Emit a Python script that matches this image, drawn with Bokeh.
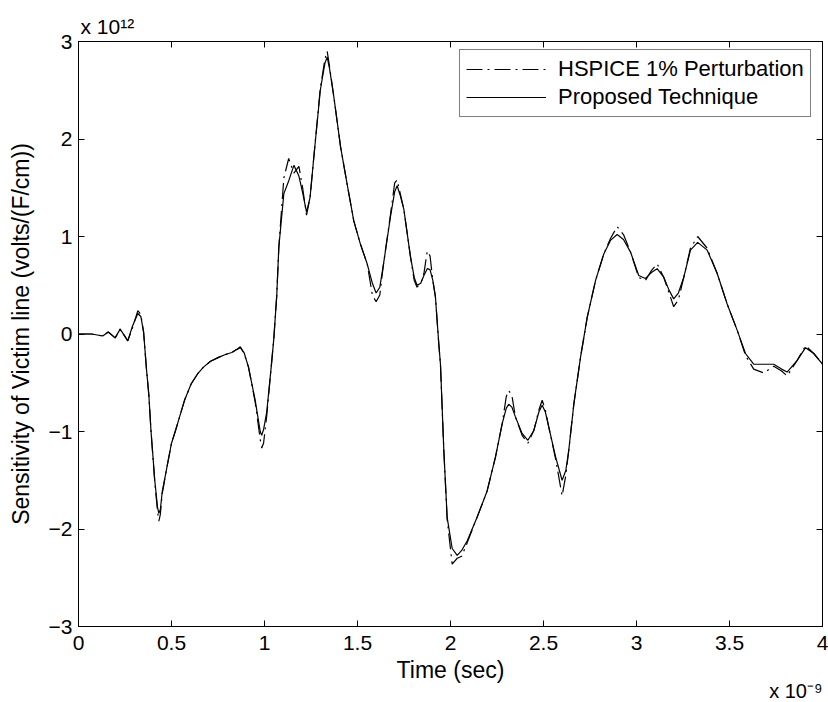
from bokeh.plotting import figure
from bokeh.models import (LinearAxis, FixedTicker, Legend, LegendItem, Range1d, Title)
from bokeh.embed import file_html
from bokeh.resources import INLINE

# Time in units of 1e-9 s
time_ns = [0.00, 0.07, 0.10, 0.13, 0.16, 0.197, 0.224, 0.265, 0.29, 0.319, 0.335, 0.35,
           0.365, 0.378, 0.39, 0.41, 0.425, 0.432, 0.44, 0.45, 0.475, 0.50, 0.52, 0.545,
           0.57, 0.606, 0.64, 0.672, 0.71, 0.753, 0.79, 0.824, 0.85, 0.87, 0.89, 0.914,
           0.95, 0.977, 0.985, 0.995, 1.012, 1.036, 1.05, 1.066, 1.077, 1.104, 1.13, 1.158,
           1.185, 1.205, 1.226, 1.245, 1.265, 1.30, 1.325, 1.337, 1.35, 1.373, 1.409, 1.444,
           1.48, 1.516, 1.552, 1.58, 1.60, 1.62, 1.64, 1.677, 1.70, 1.713, 1.73, 1.749,
           1.785, 1.805, 1.82, 1.84, 1.857, 1.875, 1.89, 1.905, 1.919, 1.937, 1.946, 1.964,
           1.982, 2.009, 2.036, 2.06, 2.09, 2.143, 2.197, 2.242, 2.278, 2.30, 2.313, 2.33,
           2.349, 2.385, 2.416, 2.448, 2.475, 2.493, 2.51, 2.529, 2.565, 2.60, 2.62, 2.636,
           2.663, 2.699, 2.735, 2.78, 2.824, 2.86, 2.896, 2.93, 2.968, 3.012, 3.048, 3.08,
           3.111, 3.147, 3.175, 3.20, 3.225, 3.254, 3.29, 3.329, 3.38, 3.434, 3.487, 3.541,
           3.586, 3.63, 3.684, 3.738, 3.78, 3.81, 3.864, 3.909, 3.953, 4.0]

# Sensitivity in units of 1e12 volts/(F/cm)
proposed = [0.00, 0.00, -0.01, -0.02, 0.02, -0.04, 0.05, -0.07, 0.08, 0.21, 0.18, 0.02,
            -0.35, -0.62, -1.00, -1.50, -1.78, -1.84, -1.80, -1.62, -1.37, -1.12, -1.00, -0.84,
            -0.68, -0.51, -0.41, -0.34, -0.28, -0.24, -0.21, -0.19, -0.16, -0.14, -0.19, -0.34,
            -0.68, -1.00, -1.04, -0.98, -0.80, -0.34, -0.05, 0.40, 0.89, 1.44, 1.57, 1.73,
            1.62, 1.45, 1.25, 1.40, 1.81, 2.50, 2.78, 2.84, 2.72, 2.43, 1.92, 1.54,
            1.16, 0.92, 0.72, 0.52, 0.42, 0.48, 0.72, 1.20, 1.46, 1.52, 1.42, 1.28,
            0.79, 0.58, 0.50, 0.52, 0.60, 0.67, 0.66, 0.55, 0.38, -0.10, -0.31, -1.19,
            -1.88, -2.20, -2.27, -2.22, -2.12, -1.88, -1.61, -1.26, -0.92, -0.76, -0.72, -0.75,
            -0.85, -1.02, -1.09, -0.99, -0.80, -0.73, -0.80, -0.96, -1.26, -1.50, -1.40, -1.19,
            -0.72, -0.24, 0.17, 0.55, 0.82, 0.96, 1.02, 0.97, 0.84, 0.60, 0.57, 0.63,
            0.67, 0.58, 0.45, 0.36, 0.42, 0.58, 0.86, 0.94, 0.86, 0.62, 0.31, 0.04,
            -0.20, -0.31, -0.31, -0.31, -0.36, -0.39, -0.27, -0.14, -0.20, -0.31]

hspice = [0.00, 0.00, -0.01, -0.02, 0.02, -0.04, 0.05, -0.07, 0.06, 0.24, 0.20, 0.02,
          -0.35, -0.62, -1.00, -1.52, -1.82, -1.92, -1.85, -1.64, -1.37, -1.12, -1.00, -0.84,
          -0.68, -0.51, -0.41, -0.34, -0.28, -0.24, -0.21, -0.19, -0.16, -0.13, -0.20, -0.34,
          -0.70, -1.08, -1.17, -1.12, -0.84, -0.34, -0.05, 0.40, 0.89, 1.60, 1.80, 1.65,
          1.72, 1.50, 1.22, 1.40, 1.81, 2.52, 2.82, 2.90, 2.74, 2.43, 1.92, 1.54,
          1.16, 0.92, 0.72, 0.40, 0.33, 0.40, 0.72, 1.22, 1.55, 1.58, 1.44, 1.28,
          0.79, 0.55, 0.48, 0.52, 0.62, 0.85, 0.80, 0.55, 0.38, -0.10, -0.31, -1.19,
          -1.90, -2.36, -2.30, -2.28, -2.14, -1.88, -1.61, -1.26, -0.92, -0.64, -0.58, -0.63,
          -0.85, -1.04, -1.12, -0.99, -0.78, -0.68, -0.78, -0.96, -1.28, -1.66, -1.45, -1.19,
          -0.72, -0.24, 0.17, 0.55, 0.82, 0.98, 1.10, 1.02, 0.84, 0.58, 0.55, 0.65,
          0.72, 0.58, 0.42, 0.28, 0.35, 0.58, 0.88, 1.00, 0.88, 0.62, 0.31, 0.04,
          -0.22, -0.36, -0.40, -0.33, -0.38, -0.43, -0.27, -0.12, -0.20, -0.31]

x_ticks = [0, 0.5, 1, 1.5, 2, 2.5, 3, 3.5, 4]
x_tick_labels = ["0", "0.5", "1", "1.5", "2", "2.5", "3", "3.5", "4"]
y_ticks = [-3, -2, -1, 0, 1, 2, 3]
y_tick_labels = ["\u22123", "\u22122", "\u22121", "0", "1", "2", "3"]
y_exponent = "x 10\u00b9\u00b2"
x_exponent = "x 10\u207b\u2079"

FONT = "Liberation Sans"

p = figure(width=828, height=702, x_range=Range1d(0, 4), y_range=Range1d(-3, 3),
           output_backend="svg", toolbar_location=None,
           min_border_left=78, min_border_right=6, min_border_top=41, min_border_bottom=76,
           x_axis_label="Time (sec)",
           y_axis_label="Sensitivity of Victim line (volts/(F/cm))")
p.grid.visible = False
p.outline_line_color = "black"
p.outline_line_width = 1
p.background_fill_color = "white"
p.border_fill_color = "white"

def style_axis(ax, ticks, labels, show_labels=True):
    ax.ticker = FixedTicker(ticks=ticks)
    ax.major_label_overrides = {t: l for t, l in zip(ticks, labels)}
    ax.major_tick_in = 6
    ax.major_tick_out = 0
    ax.minor_tick_in = 0
    ax.minor_tick_out = 0
    ax.axis_line_color = "black"
    ax.major_tick_line_color = "black"
    ax.major_label_text_font = FONT
    ax.major_label_text_color = "black"
    ax.axis_label_text_font = FONT
    ax.axis_label_text_font_style = "normal"
    ax.axis_label_text_color = "black"
    if show_labels:
        ax.major_label_text_font_size = "21px"
        ax.axis_label_text_font_size = "23px"
    else:
        ax.major_label_text_font_size = "0px"
        ax.major_label_standoff = 0

style_axis(p.xaxis[0], x_ticks, x_tick_labels)
style_axis(p.yaxis[0], y_ticks, y_tick_labels)
p.xaxis[0].major_label_standoff = 9
p.xaxis[0].axis_label_standoff = 4
p.yaxis[0].major_label_standoff = 6
p.yaxis[0].axis_label_standoff = 12

top_ax = LinearAxis()
style_axis(top_ax, x_ticks, ["" for _ in x_ticks], show_labels=False)
p.add_layout(top_ax, "above")
right_ax = LinearAxis()
style_axis(right_ax, y_ticks, ["" for _ in y_ticks], show_labels=False)
p.add_layout(right_ax, "right")

r_h = p.line(time_ns, hspice, line_color="black", line_width=1.2, line_dash="16 5 2 5")
r_p = p.line(time_ns, proposed, line_color="black", line_width=1.2)

legend = Legend(items=[LegendItem(label="HSPICE 1% Perturbation", renderers=[r_h]),
                       LegendItem(label="Proposed Technique", renderers=[r_p])],
                location=(381, 509))
legend.border_line_color = "black"
legend.border_line_width = 1
legend.background_fill_color = "white"
legend.background_fill_alpha = 1
legend.label_text_font = FONT
legend.label_text_font_size = "22px"
legend.label_text_color = "black"
legend.glyph_width = 80
legend.glyph_height = 24
legend.label_height = 24
legend.label_standoff = 12
legend.padding = 6
legend.spacing = 2
legend.margin = 0
p.add_layout(legend, "center")

# exponent annotations
top_title = Title(text=y_exponent, align="left", offset=2, standoff=7,
                  text_font=FONT, text_font_size="21px", text_font_style="normal",
                  text_color="black")
p.add_layout(top_title, "above")
bot_title = Title(text=x_exponent, align="right", offset=0, standoff=-15,
                  text_font=FONT, text_font_size="20px", text_font_style="normal",
                  text_color="black")
p.add_layout(bot_title, "below")

open("out.html", "w").write(file_html(p, INLINE))
